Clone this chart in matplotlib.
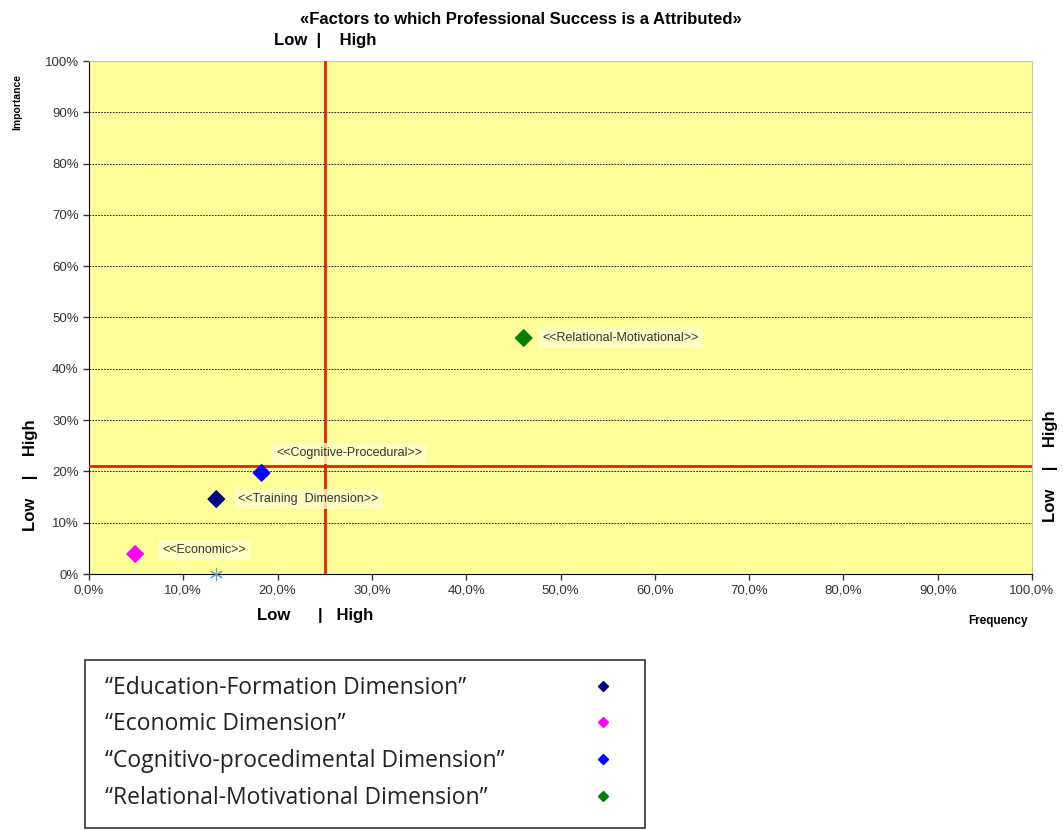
import numpy as np
import matplotlib.pyplot as plt
from matplotlib.ticker import FuncFormatter
from matplotlib.lines import Line2D
from matplotlib.patches import Rectangle

# Data (frequency %, importance %)
labels = ['<<Economic>>', '<<Training  Dimension>>', '<<Cognitive-Procedural>>', '<<Relational-Motivational>>']
freq = [4.9, 13.5, 18.3, 46.1]
importance = [3.9, 14.6, 19.7, 46.0]
colors = ['#FF00FF', '#000080', '#0000FF', '#008000']
star_freq = [13.5]
star_imp = [0.0]
cut_freq = 25.0
cut_imp = 21.0

legend_labels = ['\u201cEducation-Formation Dimension\u201d', '\u201cEconomic Dimension\u201d',
                 '\u201cCognitivo-procedimental Dimension\u201d', '\u201cRelational-Motivational Dimension\u201d']
legend_colors = ['#000080', '#FF00FF', '#0000FF', '#008000']

plt.rcParams['font.family'] = ['Liberation Sans', 'DejaVu Sans']

fig = plt.figure(figsize=(10.63, 8.3), dpi=100)
ax = fig.add_axes([89 / 1063, 1 - 574 / 830, 943 / 1063, 513 / 830])
ax.set_facecolor('#FFFF99')
ax.set_xlim(0, 100)
ax.set_ylim(0, 100)

ax.set_xticks(np.arange(0, 101, 10))
ax.set_yticks(np.arange(0, 101, 10))
ax.xaxis.set_major_formatter(FuncFormatter(lambda v, p: f'{v:.1f}%'.replace('.', ',')))
ax.yaxis.set_major_formatter(FuncFormatter(lambda v, p: f'{v:.0f}%'))
ax.tick_params(labelsize=9.5, colors='#333333', length=4, width=1)
ax.grid(axis='y', color='black', linestyle=(0, (2, 1.5)), linewidth=0.6)
ax.set_axisbelow(True)
for s in ['left', 'bottom']:
    ax.spines[s].set_color('black')
for s in ['top', 'right']:
    ax.spines[s].set_color('#C8C8A0')

ax.axvline(cut_freq, color='#E8200C', linewidth=2, zorder=3)
ax.axhline(cut_imp, color='#E8200C', linewidth=2, zorder=3)

ax.scatter(freq, importance, marker='D', s=70, c=colors, zorder=4)
ax.scatter(star_freq, star_imp, marker=(6, 2, 0), s=80, c='#5BA3C8', linewidths=0.8, zorder=4, clip_on=False)

offsets = [(2.9, 0.8), (2.3, 0.0), (1.6, 3.8), (2.0, 0.0)]
for lab, x, y, (dx, dy) in zip(labels, freq, importance, offsets):
    ax.text(x + dx, y + dy, lab, fontsize=9, color='#333333', va='center', ha='left', zorder=5,
            bbox=dict(boxstyle='square,pad=0.35', fc='#FFFFCC', ec='none', alpha=0.8))

fig.text(0.49, 1 - 19 / 830, '\u00abFactors to which Professional Success is a Attributed\u00bb',
         ha='center', va='center', fontsize=12, fontweight='bold')
fig.text(325 / 1063, 1 - 41 / 830, 'Low  |    High', ha='center', va='center', fontsize=12, fontweight='bold')
fig.text(315 / 1063, 1 - 615 / 830, 'Low      |   High', ha='center', va='center', fontsize=12, fontweight='bold')
fig.text(30 / 1063, 1 - 475 / 830, 'Low    |    High', ha='center', va='center', fontsize=12, fontweight='bold', rotation=90)
fig.text(1051 / 1063, 1 - 466 / 830, 'Low    |    High', ha='center', va='center', fontsize=12, fontweight='bold', rotation=90)
fig.text(17 / 1063, 1 - 102 / 830, 'Importance', ha='center', va='center', fontsize=7.5, fontweight='bold', rotation=90)
fig.text(998 / 1063, 1 - 621 / 830, 'Frequency', ha='center', va='center', fontsize=8.5, fontweight='bold')

# legend box
fig.patches.append(Rectangle((85 / 1063, 1 - 828 / 830), 560 / 1063, 168 / 830,
                             transform=fig.transFigure, fc='white', ec='#333333', lw=1.2))
ys = [688, 724, 761, 798]
for lab, col, yp in zip(legend_labels, legend_colors, ys):
    fig.text(105 / 1063, 1 - yp / 830, lab, ha='left', va='center', fontsize=16.5, color='#222222',
             family=['Open Sans', 'DejaVu Sans'])
    fig.add_artist(Line2D([603 / 1063], [1 - (yp - 2) / 830], marker='D', markersize=5,
                          color=col, linestyle='none', transform=fig.transFigure))

fig.savefig('out.png', dpi=100)
